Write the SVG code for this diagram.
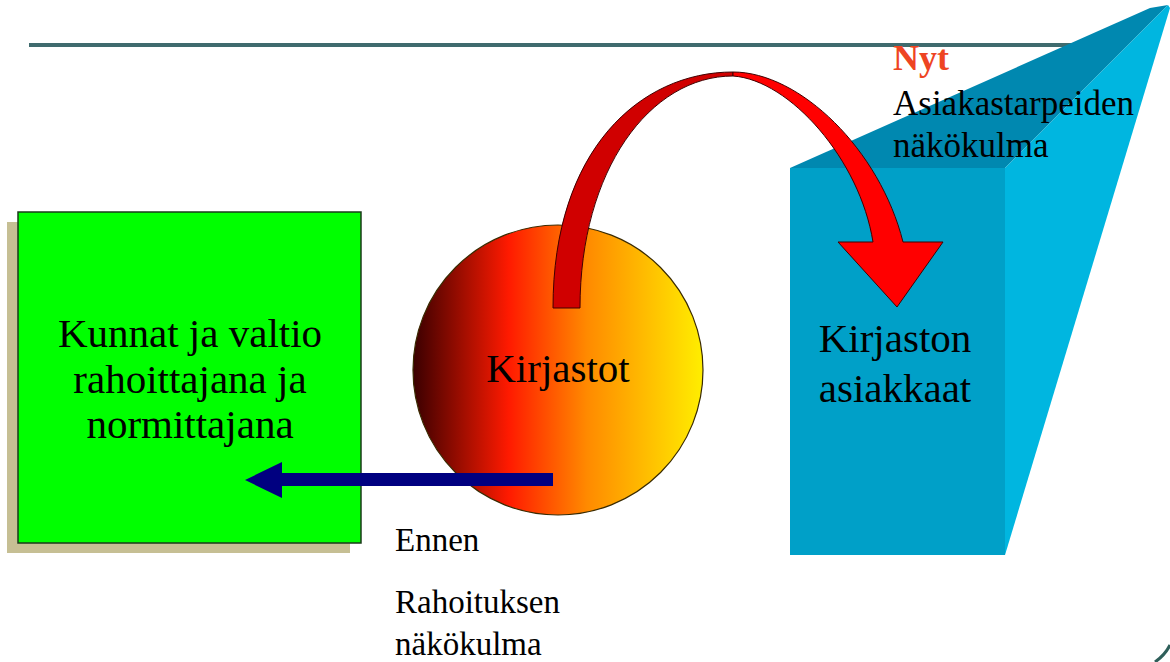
<svg xmlns="http://www.w3.org/2000/svg" width="1170" height="662" viewBox="0 0 1170 662">
<defs>
<linearGradient id="ball" x1="0" y1="0" x2="1" y2="0">
<stop offset="0" stop-color="#3a0000"/>
<stop offset="0.33" stop-color="#ff1a00"/>
<stop offset="0.6" stop-color="#ff8a00"/>
<stop offset="1" stop-color="#ffee00"/>
</linearGradient>
<style>
.t{font-family:"Liberation Serif","Times New Roman",serif;fill:#000}
.big{font-size:41px}
.mid{font-size:35px}
.sm{font-size:33px}
</style>
</defs>
<rect width="1170" height="662" fill="#fff"/>
<line x1="29" y1="45" x2="1100" y2="45" stroke="#3f6b6e" stroke-width="4"/>
<path d="M1155,662 Q1165,655 1170,645" fill="none" stroke="#2f5f5a" stroke-width="3"/>

<g id="customers">
<polygon points="790,168 1005,168 1168,5 1150,8" fill="#0088b0"/>
<polygon points="1005,168 1168,5 1170,8 1005,555" fill="#00b6e0"/>
<rect x="790" y="168" width="215" height="387" fill="#00a0c8"/>
<text class="t big" x="895" y="352" text-anchor="middle">Kirjaston</text>
<text class="t big" x="895" y="402" text-anchor="middle">asiakkaat</text>
</g>

<g id="funders">
<rect x="7" y="222" width="343" height="331" fill="#c6bf94"/>
<rect x="18" y="212" width="343" height="331" fill="#00ff00" stroke="#1a3a1a" stroke-width="1.5"/>
<text class="t big" x="190" y="347" text-anchor="middle">Kunnat ja valtio</text>
<text class="t big" x="190" y="393" text-anchor="middle">rahoittajana ja</text>
<text class="t big" x="190" y="438" text-anchor="middle">normittajana</text>
</g>

<g id="libraries">
<circle cx="558" cy="370" r="145" fill="url(#ball)" stroke="#3a2a00" stroke-width="1.2"/>
<text class="t big" x="558" y="382" text-anchor="middle">Kirjastot</text>
</g>

<g id="connectors">
<polygon points="553,473 282,473 282,462 245,480 282,498 282,486 553,486" fill="#000080"/>
<path d="M553,308 C553,150 640,72 733,72 L733,76 C650,76 580,170 580,308 Z" fill="#d00000" stroke="#400000" stroke-width="1"/>
<path d="M733,72 C800,72 880,150 903,242 L943,242 L897,307 L838,242 L873,242 C860,160 790,80 733,76 Z" fill="#ff0000" stroke="#400000" stroke-width="1"/>
</g>

<g id="labels">
<text class="t" x="893" y="70" style="font-size:36px;font-weight:bold;fill:#ee4422">Nyt</text>
<text class="t mid" x="893" y="115">Asiakastarpeiden</text>
<text class="t mid" x="893" y="157">näkökulma</text>
<text class="t sm" x="395" y="551">Ennen</text>
<text class="t sm" x="395" y="613">Rahoituksen</text>
<text class="t sm" x="395" y="655">näkökulma</text>
</g>
</svg>
